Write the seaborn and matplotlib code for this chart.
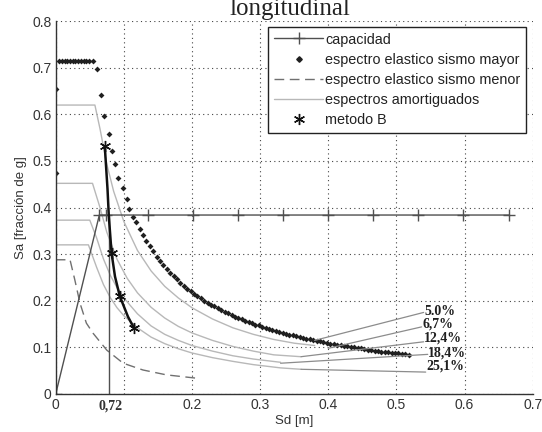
import matplotlib
matplotlib.use("Agg")
import matplotlib.pyplot as plt
from matplotlib.lines import Line2D
import seaborn as sns

# curva de capacidad
cap_sd = [0.0, 0.064, 0.074, 0.135, 0.201, 0.267, 0.333, 0.400, 0.465, 0.531, 0.598, 0.665]
cap_sa = [0.0, 0.384, 0.384, 0.384, 0.384, 0.384, 0.384, 0.384, 0.384, 0.384, 0.384, 0.384]

# espectro elastico sismo mayor (puntos)
may_sd = [0.001, 0.001, 0.005, 0.009, 0.013, 0.017, 0.021, 0.025, 0.029, 0.033, 0.037, 0.041,
          0.045, 0.049, 0.054, 0.061, 0.066, 0.071, 0.078, 0.082, 0.087, 0.092, 0.0985, 0.104,
          0.108, 0.113,
          0.118, 0.123, 0.128, 0.133, 0.138, 0.143, 0.148, 0.153, 0.158, 0.163, 0.168, 0.173,
          0.178, 0.183, 0.188, 0.193, 0.198, 0.203, 0.208, 0.213, 0.218, 0.223, 0.228, 0.233,
          0.238, 0.243, 0.248, 0.253, 0.258, 0.263, 0.268, 0.273, 0.278, 0.283, 0.288, 0.293,
          0.298, 0.303, 0.308, 0.313, 0.318, 0.323, 0.328, 0.333, 0.338, 0.343, 0.348, 0.353,
          0.358, 0.363, 0.368, 0.373, 0.378, 0.383, 0.388, 0.393, 0.398, 0.403, 0.408, 0.413,
          0.418, 0.423, 0.428, 0.433, 0.438, 0.443, 0.448, 0.453, 0.458, 0.463, 0.468, 0.473,
          0.478, 0.483, 0.488, 0.493, 0.498, 0.503, 0.508, 0.513, 0.518]
may_sa = [0.474, 0.655, 0.714, 0.714, 0.714, 0.714, 0.714, 0.714, 0.714, 0.714, 0.714, 0.714,
          0.714, 0.714, 0.714, 0.697, 0.642, 0.597, 0.558, 0.522, 0.493, 0.464, 0.441, 0.418,
          0.398, 0.380,
          0.370, 0.355, 0.341, 0.329, 0.317, 0.306, 0.295, 0.286, 0.277, 0.268, 0.260, 0.253,
          0.246, 0.239, 0.232, 0.226, 0.221, 0.215, 0.210, 0.205, 0.200, 0.196, 0.192, 0.188,
          0.184, 0.180, 0.176, 0.173, 0.169, 0.166, 0.163, 0.160, 0.157, 0.154, 0.152, 0.149,
          0.147, 0.144, 0.142, 0.140, 0.137, 0.135, 0.133, 0.131, 0.129, 0.127, 0.126, 0.124,
          0.122, 0.120, 0.119, 0.117, 0.116, 0.114, 0.113, 0.111, 0.110, 0.108, 0.107, 0.106,
          0.105, 0.103, 0.102, 0.101, 0.100, 0.099, 0.098, 0.096, 0.095, 0.094, 0.093, 0.092,
          0.091, 0.090, 0.090, 0.089, 0.088, 0.087, 0.086, 0.085, 0.084]

# espectro elastico sismo menor
men_sd = [0.0, 0.021, 0.028, 0.0356, 0.045, 0.055, 0.075, 0.099, 0.128, 0.1625, 0.206]
men_sa = [0.288, 0.288, 0.245, 0.195, 0.152, 0.130, 0.094, 0.066, 0.0515, 0.041, 0.034]

# espectros amortiguados (6.7 %, 12.4 %, 18.4 %, 25.1 %)
am1_sd = [0.0, 0.0575, 0.065, 0.075, 0.085, 0.10, 0.12, 0.14, 0.16, 0.18, 0.20, 0.23, 0.26, 0.29, 0.32, 0.35, 0.38]
am1_sa = [0.620, 0.620, 0.569, 0.493, 0.435, 0.370, 0.308, 0.264, 0.231, 0.206, 0.185, 0.161, 0.142, 0.128, 0.117, 0.109, 0.104]
am2_sd = [0.0, 0.054, 0.065, 0.075, 0.09, 0.105, 0.12, 0.14, 0.16, 0.18, 0.20, 0.23, 0.26, 0.29, 0.32, 0.36]
am2_sa = [0.452, 0.452, 0.400, 0.347, 0.289, 0.248, 0.217, 0.186, 0.163, 0.145, 0.131, 0.115, 0.102, 0.092, 0.084, 0.080]
am3_sd = [0.0, 0.050, 0.06, 0.07, 0.08, 0.09, 0.10, 0.12, 0.14, 0.16, 0.18, 0.20, 0.23, 0.26, 0.29, 0.33]
am3_sa = [0.373, 0.373, 0.335, 0.290, 0.255, 0.228, 0.206, 0.172, 0.146, 0.128, 0.115, 0.104, 0.092, 0.082, 0.075, 0.068]
am4_sd = [0.0, 0.048, 0.06, 0.07, 0.08, 0.09, 0.10, 0.12, 0.14, 0.16, 0.18, 0.20, 0.23, 0.26, 0.29, 0.33, 0.36]
am4_sa = [0.320, 0.320, 0.272, 0.235, 0.207, 0.185, 0.168, 0.142, 0.122, 0.108, 0.097, 0.088, 0.078, 0.070, 0.063, 0.056, 0.053]

# metodo B
mb_sd = [0.072, 0.082, 0.094, 0.115]
mb_sa = [0.532, 0.302, 0.210, 0.141]
mb_linea_sd = [0.072, 0.076, 0.078, 0.082, 0.087, 0.094, 0.106, 0.115]
mb_linea_sa = [0.532, 0.440, 0.380, 0.302, 0.252, 0.210, 0.166, 0.141]

# etiquetas de amortiguamiento
etiquetas = ["5.0%", "6,7%", "12,4%", "18,4%", "25,1%"]
lider_ini_sd = [0.380, 0.400, 0.360, 0.330, 0.360]
lider_ini_sa = [0.115, 0.098, 0.080, 0.066, 0.053]
lider_fin_sd = [0.540, 0.537, 0.540, 0.546, 0.543]
lider_fin_sa = [0.175, 0.144, 0.112, 0.085, 0.047]
etiq_sa = [0.177, 0.150, 0.120, 0.088, 0.060]

sns.set_style("white")
plt.rcParams['font.family'] = ['Liberation Sans', 'DejaVu Sans']

fig = plt.figure(figsize=(5.42, 4.32), dpi=100)
ax = fig.add_axes([0.1028, 0.088, 0.880, 0.863])

gris_am = '#b8b8b8'
for xs, ys in [(am1_sd, am1_sa), (am2_sd, am2_sa), (am3_sd, am3_sa), (am4_sd, am4_sa)]:
    sns.lineplot(x=xs, y=ys, sort=False, estimator=None, color=gris_am, lw=1.0, ax=ax)

# lineas guia hacia las etiquetas
for i in range(len(etiquetas)):
    ax.plot([lider_ini_sd[i], lider_fin_sd[i]], [lider_ini_sa[i], lider_fin_sa[i]],
            color='#8c8c8c', lw=0.9)
    ax.text(lider_fin_sd[i] + 0.001, etiq_sa[i], etiquetas[i], family='Liberation Serif',
            weight='bold', fontsize=10, ha='left', va='center', color='#202020')

ax.plot(men_sd, men_sa, color='#707070', lw=1.0, ls=(0, (7, 4)))

ax.plot(cap_sd, cap_sa, color='#505050', lw=1.0, ls='-',
        marker='+', markersize=9, markeredgewidth=1.0)

# linea vertical en el punto de desempeno
ax.plot([0.0785, 0.0785], [0, 0.384], color='#505050', lw=1.0)

sns.lineplot(x=mb_linea_sd, y=mb_linea_sa, sort=False, estimator=None, color='#111111', lw=1.8, ax=ax)
ax.plot(mb_sd, mb_sa, ls='none', marker=(6, 2, 0), markersize=8, mew=1.0, color='#111111')

sns.scatterplot(x=may_sd, y=may_sa, marker='D', s=9, color='#202020', linewidth=0, ax=ax)

ax.set_xlim(0, 0.7)
ax.set_ylim(0, 0.8)
ax.set_xticks([0, 0.1, 0.2, 0.3, 0.4, 0.5, 0.6, 0.7])
ax.set_xticklabels(['0', '', '0.2', '0.3', '0.4', '0.5', '0.6', '0.7'])
ax.set_yticks([0, 0.1, 0.2, 0.3, 0.4, 0.5, 0.6, 0.7, 0.8])
ax.set_yticklabels(['0', '0.1', '0.2', '0.3', '0.4', '0.5', '0.6', '0.7', '0.8'])
ax.tick_params(direction='in', length=4, width=0.8, colors='#333333', labelsize=10, pad=3)
ax.grid(True, color='#444444', ls=(0, (1, 3)), lw=0.8)
for s in ['top', 'right']:
    ax.spines[s].set_visible(False)
for s in ['left', 'bottom']:
    ax.spines[s].set_color('#333333')
    ax.spines[s].set_linewidth(1.0)

ax.text(0.08, -0.012, '0,72', family='Liberation Serif', weight='bold', fontsize=10,
        ha='center', va='top', color='#333333')

ax.set_xlabel('Sd [m]', fontsize=9.5, color='#333333', labelpad=2)
ax.set_ylabel('Sa [fracción de g]', fontsize=9.5, color='#333333', labelpad=4)

fig.text(0.535, 0.965, 'longitudinal', family='Liberation Serif', fontsize=18,
         ha='center', va='baseline', color='#222222')

handles = [
    Line2D([], [], color='#505050', lw=1.0, marker='+', markersize=9),
    Line2D([], [], ls='none', marker='D', markersize=2.8, color='#202020'),
    Line2D([], [], color='#707070', lw=1.0, ls=(0, (7, 4))),
    Line2D([], [], color=gris_am, lw=1.0),
    Line2D([], [], ls='none', marker=(6, 2, 0), markersize=8, color='#111111'),
]
labels = ['capacidad', 'espectro elastico sismo mayor', 'espectro elastico sismo menor',
          'espectros amortiguados', 'metodo B']
leg = ax.legend(handles, labels, loc='upper right', bbox_to_anchor=(0.987, 0.985),
                fontsize=10.4, frameon=True, fancybox=False, framealpha=1, borderpad=0.4,
                labelspacing=0.42, handlelength=3.4, handletextpad=0.15, borderaxespad=0)
leg.get_frame().set_edgecolor('#222222')
leg.get_frame().set_linewidth(1.0)
for t in leg.get_texts():
    t.set_color('#222222')

fig.savefig('out.png', dpi=100)
